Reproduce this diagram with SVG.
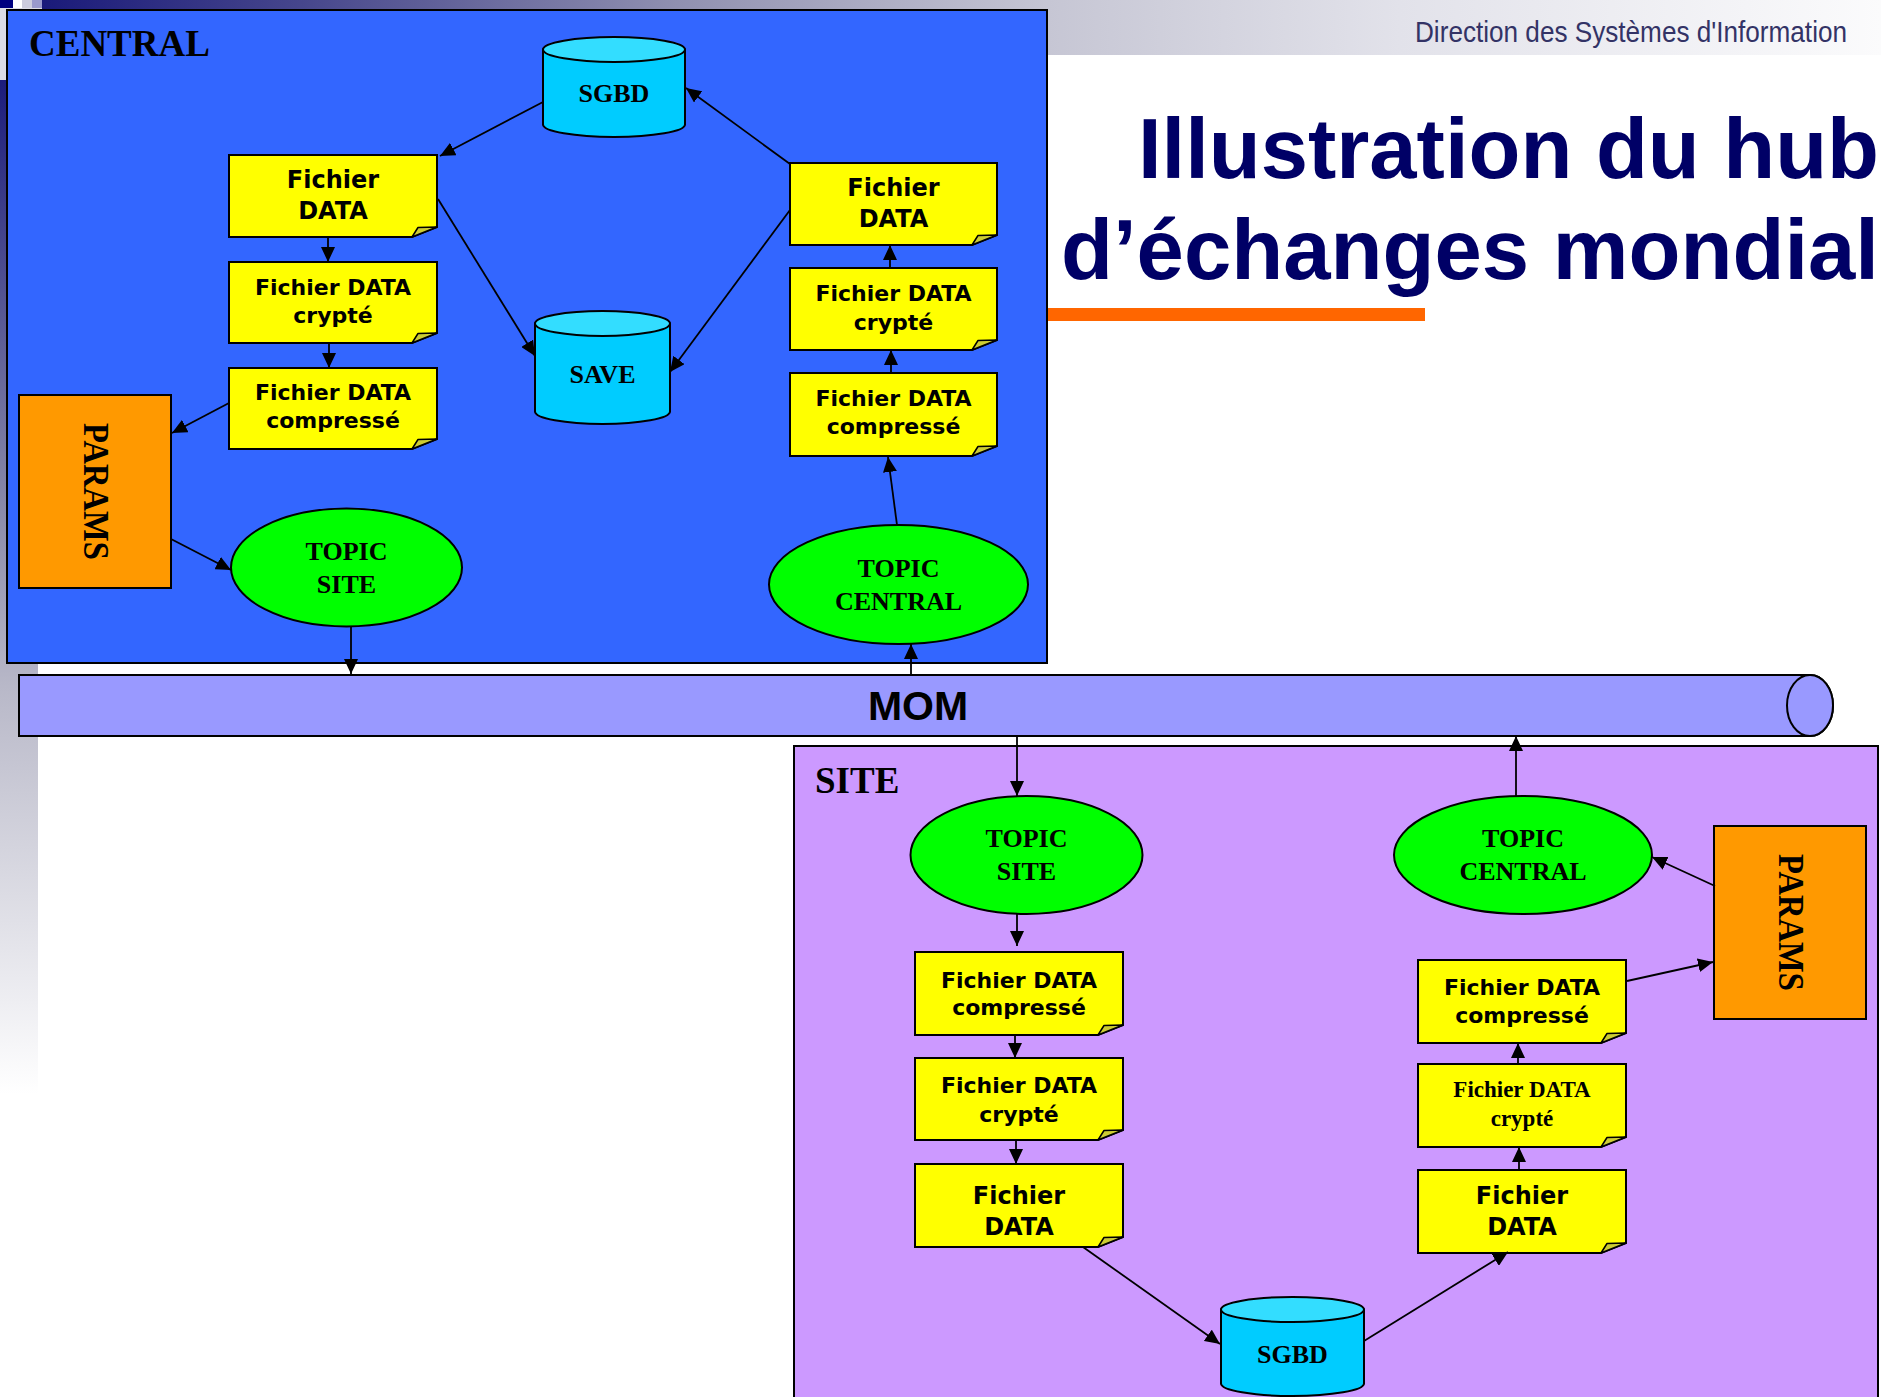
<svg xmlns="http://www.w3.org/2000/svg" width="1881" height="1397" viewBox="0 0 1881 1397">
<defs>
<linearGradient id="topbar" x1="0" y1="0" x2="1881" y2="0" gradientUnits="userSpaceOnUse">
<stop offset="0.022" stop-color="#1a1a7a"/>
<stop offset="0.16" stop-color="#46468c"/>
<stop offset="0.36" stop-color="#9090b0"/>
<stop offset="0.557" stop-color="#c6c6d4"/>
<stop offset="0.744" stop-color="#e2e2ea"/>
<stop offset="1" stop-color="#fbfbfc"/>
</linearGradient>
<linearGradient id="leftbar" x1="0" y1="80" x2="0" y2="1397" gradientUnits="userSpaceOnUse">
<stop offset="0" stop-color="#1c1c7c"/>
<stop offset="0.32" stop-color="#8888a8"/>
<stop offset="0.46" stop-color="#b8b8c8"/>
<stop offset="0.70" stop-color="#eeeef2"/>
<stop offset="0.77" stop-color="#ffffff"/>
</linearGradient>
<marker id="arr" markerUnits="userSpaceOnUse" markerWidth="16" markerHeight="14" refX="15" refY="7" orient="auto">
<path d="M0,0 L15,7 L0,14 z" fill="#000"/>
</marker>
<style>
.box{fill:#ffff00;stroke:#000;stroke-width:2}
.flap{fill:#cccc33;stroke:#000;stroke-width:1.5;stroke-linejoin:round}
.bt{font-family:"DejaVu Sans",Verdana,sans-serif;font-weight:bold;font-size:22px;text-anchor:middle;fill:#000}
.bt2{font-size:24px}
.tt{font-family:"Liberation Serif","Times New Roman",serif;font-weight:bold;text-anchor:middle;fill:#000}
.tp{font-size:26px}
.cyl{fill:#00ccff;stroke:#000;stroke-width:2}
.cyltop{fill:#33ddff;stroke:#000;stroke-width:2}
.topic{fill:#00ff00;stroke:#000;stroke-width:2}
.params{fill:#ff9900;stroke:#000;stroke-width:2}
.conn line{stroke:#000;stroke-width:1.8;marker-end:url(#arr)}
</style>
</defs>

<g id="background">
<rect x="0" y="0" width="1881" height="1397" fill="#ffffff"/>
<rect x="0" y="0" width="1881" height="55" fill="url(#topbar)"/>
<rect x="0" y="8" width="42" height="72" fill="#dcdce6"/>
<rect x="0" y="80" width="38" height="1317" fill="url(#leftbar)"/>
<rect x="0" y="0" width="13" height="8" fill="#000080"/>
<rect x="13" y="0" width="9" height="8" fill="#ffffff"/>
<rect x="22" y="0" width="10" height="8" fill="#ccccdd"/>
<rect x="32" y="0" width="10" height="8" fill="#9999cc"/>
<text x="1415" y="42" font-family="'Liberation Sans Narrow','Liberation Sans',Arial,sans-serif" font-size="30" fill="#333366" textLength="432" lengthAdjust="spacingAndGlyphs">Direction des Systèmes d'Information</text>
<text x="1138" y="178" font-family="'Liberation Sans',Arial,sans-serif" font-weight="bold" font-size="86" fill="#000066" textLength="741" lengthAdjust="spacingAndGlyphs">Illustration du hub</text>
<text x="1061" y="279" font-family="'Liberation Sans',Arial,sans-serif" font-weight="bold" font-size="86" fill="#000066" textLength="818" lengthAdjust="spacingAndGlyphs">d’échanges mondial</text>
<rect x="1047" y="308" width="378" height="13" fill="#ff6600"/>
</g>

<g id="central">
<rect x="7" y="10" width="1040" height="653" fill="#3366ff" stroke="#000" stroke-width="2"/>
<text class="tt" x="29" y="56" font-size="37" style="text-anchor:start">CENTRAL</text>
</g>

<g id="mom">
<path d="M19 675 H1810 A23 30.5 0 0 1 1810 736 H19 Z" fill="#9999ff" stroke="#000" stroke-width="2"/>
<ellipse cx="1810" cy="705.5" rx="23" ry="30.5" fill="#9999ff" stroke="#000" stroke-width="2"/>
<text x="918" y="720" font-family="'Liberation Sans',Arial,sans-serif" font-weight="bold" font-size="41" text-anchor="middle">MOM</text>
</g>

<g id="site">
<rect x="794" y="746" width="1084" height="660" fill="#cc99ff" stroke="#000" stroke-width="2"/>
<text class="tt" x="815" y="793" font-size="37" style="text-anchor:start">SITE</text>
</g>

<g id="c-sgbd">
<path class="cyl" d="M543 49.5 V124.5 A71 12.5 0 0 0 685 124.5 V49.5 Z"/>
<ellipse class="cyltop" cx="614" cy="49.5" rx="71" ry="12.5"/>
<text class="tt" x="614" y="102" font-size="26">SGBD</text>
</g>
<g id="c-save">
<path class="cyl" d="M535 323.5 V411.5 A67.5 12.5 0 0 0 670 411.5 V323.5 Z"/>
<ellipse class="cyltop" cx="602.5" cy="323.5" rx="67.5" ry="12.5"/>
<text class="tt" x="602.5" y="383" font-size="26">SAVE</text>
</g>
<g id="c-l1">
<path class="box" d="M229 155 H437 V227 L412 237 H229 Z"/>
<path class="flap" d="M412 237 L418 227.5 L437 227 Z"/>
<text class="bt bt2" x="333" y="188">Fichier</text>
<text class="bt bt2" x="333" y="219">DATA</text>
</g>
<g id="c-l2">
<path class="box" d="M229 262 H437 V333 L412 343 H229 Z"/>
<path class="flap" d="M412 343 L418 333.5 L437 333 Z"/>
<text class="bt" x="333" y="294.5">Fichier DATA</text>
<text class="bt" x="333" y="322.5">crypté</text>
</g>
<g id="c-l3">
<path class="box" d="M229 368 H437 V439 L412 449 H229 Z"/>
<path class="flap" d="M412 449 L418 439.5 L437 439 Z"/>
<text class="bt" x="333" y="399.5">Fichier DATA</text>
<text class="bt" x="333" y="427.5">compressé</text>
</g>
<g id="c-params">
<rect class="params" x="19" y="395" width="152" height="193"/>
<text class="tt" transform="translate(95 491.5) rotate(90)" x="0" y="11.5" font-size="35" textLength="137" lengthAdjust="spacingAndGlyphs">PARAMS</text>
</g>
<g id="c-topic-site">
<ellipse class="topic" cx="346.5" cy="567.5" rx="115.5" ry="59"/>
<text class="tt tp" x="346.5" y="560">TOPIC</text>
<text class="tt tp" x="346.5" y="593">SITE</text>
</g>
<g id="c-r1">
<path class="box" d="M790 163 H997 V235 L972 245 H790 Z"/>
<path class="flap" d="M972 245 L978 235.5 L997 235 Z"/>
<text class="bt bt2" x="893.5" y="196">Fichier</text>
<text class="bt bt2" x="893.5" y="227">DATA</text>
</g>
<g id="c-r2">
<path class="box" d="M790 268 H997 V340 L972 350 H790 Z"/>
<path class="flap" d="M972 350 L978 340.5 L997 340 Z"/>
<text class="bt" x="893.5" y="301">Fichier DATA</text>
<text class="bt" x="893.5" y="329.5">crypté</text>
</g>
<g id="c-r3">
<path class="box" d="M790 373 H997 V446 L972 456 H790 Z"/>
<path class="flap" d="M972 456 L978 446.5 L997 446 Z"/>
<text class="bt" x="893.5" y="406">Fichier DATA</text>
<text class="bt" x="893.5" y="434">compressé</text>
</g>
<g id="c-topic-central">
<ellipse class="topic" cx="898.5" cy="584.5" rx="129.5" ry="59.5"/>
<text class="tt tp" x="898.5" y="577">TOPIC</text>
<text class="tt tp" x="898.5" y="610">CENTRAL</text>
</g>

<g id="s-topic-site">
<ellipse class="topic" cx="1026.5" cy="855" rx="116" ry="59"/>
<text class="tt tp" x="1026.5" y="847">TOPIC</text>
<text class="tt tp" x="1026.5" y="880">SITE</text>
</g>
<g id="s-topic-central">
<ellipse class="topic" cx="1523" cy="855" rx="129" ry="59"/>
<text class="tt tp" x="1523" y="847">TOPIC</text>
<text class="tt tp" x="1523" y="880">CENTRAL</text>
</g>
<g id="s-params">
<rect class="params" x="1714" y="826" width="152" height="193"/>
<text class="tt" transform="translate(1790 922.5) rotate(90)" x="0" y="11.5" font-size="35" textLength="137" lengthAdjust="spacingAndGlyphs">PARAMS</text>
</g>
<g id="s-l1">
<path class="box" d="M915 952 H1123 V1025 L1098 1035 H915 Z"/>
<path class="flap" d="M1098 1035 L1104 1025.5 L1123 1025 Z"/>
<text class="bt" x="1019" y="987.5">Fichier DATA</text>
<text class="bt" x="1019" y="1015">compressé</text>
</g>
<g id="s-l2">
<path class="box" d="M915 1058 H1123 V1130 L1098 1140 H915 Z"/>
<path class="flap" d="M1098 1140 L1104 1130.5 L1123 1130 Z"/>
<text class="bt" x="1019" y="1093">Fichier DATA</text>
<text class="bt" x="1019" y="1122">crypté</text>
</g>
<g id="s-l3">
<path class="box" d="M915 1164 H1123 V1237 L1098 1247 H915 Z"/>
<path class="flap" d="M1098 1247 L1104 1237.5 L1123 1237 Z"/>
<text class="bt bt2" x="1019" y="1204">Fichier</text>
<text class="bt bt2" x="1019" y="1235">DATA</text>
</g>
<g id="s-sgbd">
<path class="cyl" d="M1221 1309.5 V1383.5 A71.5 12.5 0 0 0 1364 1383.5 V1309.5 Z"/>
<ellipse class="cyltop" cx="1292.5" cy="1309.5" rx="71.5" ry="12.5"/>
<text class="tt" x="1292.5" y="1363" font-size="26">SGBD</text>
</g>
<g id="s-r1">
<path class="box" d="M1418 960 H1626 V1033 L1601 1043 H1418 Z"/>
<path class="flap" d="M1601 1043 L1607 1033.5 L1626 1033 Z"/>
<text class="bt" x="1522" y="995">Fichier DATA</text>
<text class="bt" x="1522" y="1023">compressé</text>
</g>
<g id="s-r2">
<path class="box" d="M1418 1064 H1626 V1137 L1601 1147 H1418 Z"/>
<path class="flap" d="M1601 1147 L1607 1137.5 L1626 1137 Z"/>
<text class="tt" x="1522" y="1097" font-size="23">Fichier DATA</text>
<text class="tt" x="1522" y="1126" font-size="23">crypté</text>
</g>
<g id="s-r3">
<path class="box" d="M1418 1170 H1626 V1243 L1601 1253 H1418 Z"/>
<path class="flap" d="M1601 1253 L1607 1243.5 L1626 1243 Z"/>
<text class="bt bt2" x="1522" y="1204">Fichier</text>
<text class="bt bt2" x="1522" y="1235">DATA</text>
</g>

<g id="connectors" class="conn">
<line x1="543" y1="102" x2="440" y2="156"/>
<line x1="328" y1="237" x2="328" y2="262"/>
<line x1="329" y1="343" x2="329" y2="368"/>
<line x1="438" y1="199" x2="535" y2="356"/>
<line x1="229" y1="403" x2="172" y2="433"/>
<line x1="171" y1="539" x2="231" y2="570"/>
<line x1="351" y1="627" x2="351" y2="674"/>
<line x1="911" y1="674" x2="911" y2="644"/>
<line x1="897" y1="525" x2="888" y2="457"/>
<line x1="891" y1="373" x2="891" y2="350"/>
<line x1="890" y1="268" x2="890" y2="245"/>
<line x1="790" y1="210" x2="670" y2="372"/>
<line x1="790" y1="164" x2="686" y2="88"/>
<line x1="1017" y1="736" x2="1017" y2="796"/>
<line x1="1017" y1="914" x2="1017" y2="946"/>
<line x1="1015" y1="1035" x2="1015" y2="1058"/>
<line x1="1016" y1="1140" x2="1016" y2="1164"/>
<line x1="1083" y1="1247" x2="1220" y2="1344"/>
<line x1="1364" y1="1341" x2="1508" y2="1252"/>
<line x1="1519" y1="1170" x2="1519" y2="1147"/>
<line x1="1518" y1="1064" x2="1518" y2="1043"/>
<line x1="1627" y1="981" x2="1713" y2="962"/>
<line x1="1715" y1="886" x2="1652" y2="857"/>
<line x1="1516" y1="796" x2="1516" y2="736"/>
</g>
</svg>
